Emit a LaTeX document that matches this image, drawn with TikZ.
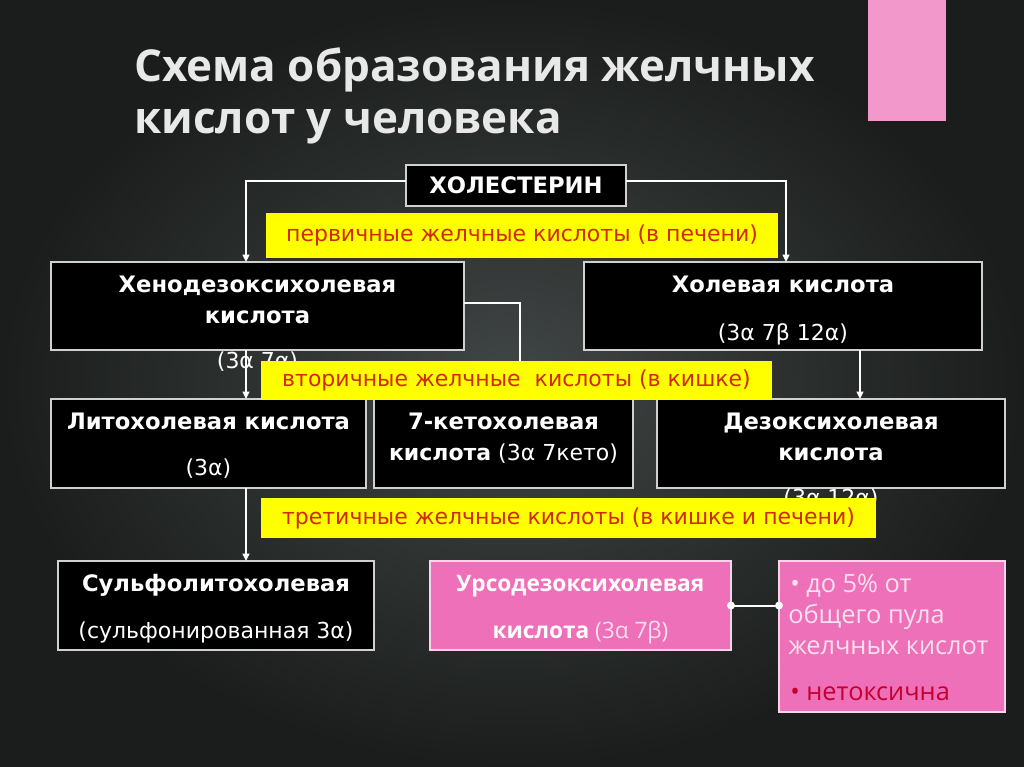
\documentclass[tikz,border=0pt]{standalone}
\usepackage{fontspec}
\setmainfont{DejaVu Sans}
\newfontfamily\gothic{Open Sans}
\usetikzlibrary{arrows.meta}
\definecolor{bgin}{HTML}{414646}
\definecolor{bgout}{HTML}{1A1D1B}
\definecolor{pinkdeco}{HTML}{F398CB}
\definecolor{pinkbox}{HTML}{EE70B8}
\definecolor{ylw}{HTML}{FFFF00}
\definecolor{redtxt}{HTML}{D02A00}
\definecolor{dred}{HTML}{C4002E}
\definecolor{lightpk}{HTML}{FBE0EE}
\definecolor{edgec}{HTML}{D0D0D0}
\definecolor{titlec}{HTML}{E8E8E8}
\begin{document}
\begin{tikzpicture}[x=0.75pt,y=-0.75pt,
  box/.style={rectangle,draw=edgec,line width=0.9pt,fill=black,inner sep=0pt,outer sep=0pt},
  pbox/.style={rectangle,draw=white!70!pinkbox,line width=0.9pt,fill=pinkbox,inner sep=0pt,outer sep=0pt},
  deco/.style={rectangle,fill=pinkdeco,inner sep=0pt,outer sep=0pt},
  lbl/.style={rectangle,fill=ylw,inner sep=0pt,outer sep=0pt,text=redtxt,font=\fontsize{16.5}{20}\selectfont},
  ttl/.style={anchor=base west,inner sep=0pt,text=titlec,font=\gothic\bfseries\fontsize{33}{40}\selectfont},
  bt/.style={anchor=base,inner sep=0pt,text=white,font=\bfseries\fontsize{17}{20}\selectfont},
  nt/.style={anchor=base,inner sep=0pt,text=white,font=\fontsize{16.5}{20}\selectfont},
  pt/.style={anchor=base,inner sep=0pt,text=white,font=\gothic\fontsize{17}{20}\selectfont},
  notet/.style={anchor=base west,inner sep=0pt,text=lightpk,font=\gothic\fontsize{19}{22}\selectfont},
  conn/.style={draw=white,line width=1.1pt},
  arr/.style={conn,-{Triangle[length=5.5pt,width=5pt]}}
]
\useasboundingbox (0,0) rectangle (1024,767);
\shade[inner color=bgin,outer color=bgout] (0,0) rectangle (1024,767);
% decoration
\node[deco,minimum width=58.5pt,minimum height=90.75pt] (deco) at (907,60.5) {};
% title
\node[ttl] (t1) at (134,82) {Схема образования желчных};
\node[ttl] (t2) at (134,133) {кислот у человека};
% boxes
\node[box,minimum width=165pt,minimum height=30.75pt,text=white,font=\bfseries\fontsize{17}{20}\selectfont] (chol) at (516,185.5) {ХОЛЕСТЕРИН};
\node[box,minimum width=309.75pt,minimum height=66pt] (heno) at (257.5,306) {};
\node[box,minimum width=298.5pt,minimum height=66pt] (cholac) at (783,306) {};
\node[box,minimum width=236.25pt,minimum height=66.75pt] (lito) at (208.5,443.5) {};
\node[box,minimum width=194.25pt,minimum height=66.75pt] (keto) at (503.5,443.5) {};
\node[box,minimum width=261pt,minimum height=66.75pt] (dezo) at (831,443.5) {};
\node[box,minimum width=237pt,minimum height=66.75pt] (sulfo) at (216,605.5) {};
\node[pbox,minimum width=225.75pt,minimum height=66.75pt] (urso) at (580.5,605.5) {};
\node[pbox,minimum width=169.5pt,minimum height=113.25pt] (note) at (892,636.5) {};
% texts
\node[bt] (henoA) at (257.5,292) {Хенодезоксихолевая};
\node[bt] (henoB) at (257.5,323) {кислота};
\node[nt] (henoC) at (257.5,368) {(3α 7α)};
\node[bt] (cholacA) at (783,292) {Холевая кислота};
\node[nt] (cholacB) at (783,340) {(3α 7β 12α)};
\node[bt] (litoA) at (208.5,429) {Литохолевая кислота};
\node[nt] (litoB) at (208.5,475) {(3α)};
\node[bt] (ketoA) at (503.5,429) {7-кетохолевая};
\node[nt] (ketoB) at (503.5,460) {\textbf{кислота} (3α 7кето)};
\node[bt] (dezoA) at (831,429) {Дезоксихолевая};
\node[bt] (dezoB) at (831,460) {кислота};
\node[nt] (dezoC) at (831,505) {(3α 12α)};
\node[bt] (sulfoA) at (216,591) {Сульфолитохолевая};
\node[nt] (sulfoB) at (216,638) {(сульфонированная 3α)};
\node[pt] (ursoA) at (580.5,591) {\bfseries Урсодезоксихолевая};
\node[pt] (ursoB) at (580.5,638) {\bfseries кислота \mdseries\color{lightpk}(3α 7β)};
\node[notet] (n1) at (790,592) {• до 5\% от};
\node[notet] (n2) at (788,623) {общего пула};
\node[notet] (n3) at (788,654) {желчных кислот};
\node[notet,text=dred] (n4) at (790,700) {• нетоксична};
% connectors
\coordinate (xL) at (246,0);
\coordinate (xR) at (786,0);
\coordinate (xK) at (520,0);
\coordinate (xD) at (860,0);
\coordinate (yC) at (0,181);
\coordinate (yH) at (0,303);
\draw[arr] (chol.west |- yC) -| (heno.north -| xL);
\draw[arr] (chol.east |- yC) -| (cholac.north -| xR);
\draw[arr] (heno.south -| xL) -- (lito.north -| xL);
\draw[arr] (heno.east |- yH) -| (keto.north -| xK);
\draw[arr] (cholac.south -| xD) -- (dezo.north -| xD);
\draw[arr] (lito.south -| xL) -- (sulfo.north -| xL);
\draw[conn,line width=1.5pt] (urso.east) -- (urso.east -| note.west);
\fill[white] (urso.east) circle (4);
\fill[white] (urso.east -| note.west) circle (4);
% yellow labels
\node[lbl,minimum width=384pt,minimum height=33.75pt] (y1) at (522,235.5) {первичные желчные кислоты (в печени)};
\node[lbl,minimum width=383.25pt,minimum height=29.25pt] (y2) at (516.5,380.5) {вторичные желчные\ \ кислоты (в кишке)};
\node[lbl,minimum width=461.25pt,minimum height=30pt] (y3) at (568.5,518) {третичные желчные кислоты (в кишке и печени)};
\end{tikzpicture}
\end{document}
